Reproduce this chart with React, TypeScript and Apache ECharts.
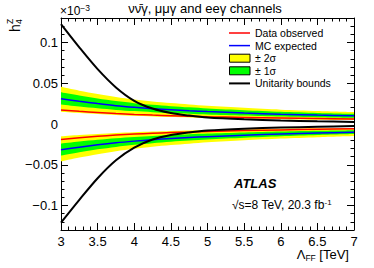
import React, { useEffect, useRef } from "react";
import * as echarts from "echarts";

const lambdaFF = [3, 3.25, 3.5, 3.75, 4, 4.25, 4.5, 4.75, 5, 5.5, 6, 6.5, 7];

// upper branch (positive h4Z)
const expUpper = [0.031, 0.0278, 0.025, 0.0225, 0.0205, 0.0188, 0.0175, 0.0163, 0.0152, 0.0135, 0.012, 0.0109, 0.01];
const obsUpper = [0.0171, 0.0155, 0.0141, 0.0128, 0.0118, 0.0109, 0.0102, 0.0096, 0.009, 0.0081, 0.0073, 0.0066, 0.006];
const twoSigHiUpper = [0.0456, 0.0409, 0.0368, 0.0331, 0.0301, 0.0276, 0.0257, 0.024, 0.0223, 0.0198, 0.0176, 0.016, 0.0147];
const twoSigLoUpper = [0.015, 0.0135, 0.0122, 0.011, 0.01, 0.0092, 0.0086, 0.008, 0.0074, 0.0066, 0.0059, 0.0053, 0.0049];
const oneSigHiUpper = [0.0388, 0.0348, 0.0313, 0.0281, 0.0256, 0.0235, 0.0219, 0.0204, 0.019, 0.0169, 0.015, 0.0136, 0.0125];
const oneSigLoUpper = [0.0239, 0.0214, 0.0193, 0.0173, 0.0158, 0.0145, 0.0135, 0.0126, 0.0117, 0.0104, 0.0092, 0.0084, 0.0077];
const unitarityUpper = [0.1225, 0.094, 0.0673, 0.0449, 0.0285, 0.019, 0.0135, 0.0103, 0.0079, 0.0057, 0.0043, 0.0033, 0.0025];

// lower branch (negative h4Z)
const expLower = [-0.0317, -0.0284, -0.0255, -0.023, -0.021, -0.0193, -0.0178, -0.0166, -0.0155, -0.0138, -0.0123, -0.0111, -0.0101];
const obsLower = [-0.0189, -0.0168, -0.015, -0.0136, -0.0124, -0.0114, -0.0105, -0.0098, -0.0091, -0.0081, -0.0073, -0.0065, -0.0059];
const twoSigInnerLower = [-0.0152, -0.0136, -0.0122, -0.011, -0.0101, -0.0093, -0.0085, -0.008, -0.0074, -0.0066, -0.0059, -0.0053, -0.0048];
const twoSigOuterLower = [-0.046, -0.0412, -0.037, -0.0334, -0.0305, -0.028, -0.0258, -0.0241, -0.0225, -0.02, -0.0178, -0.0161, -0.0146];
const oneSigInnerLower = [-0.0241, -0.0216, -0.0194, -0.0175, -0.016, -0.0147, -0.0135, -0.0126, -0.0118, -0.0105, -0.0093, -0.0084, -0.0077];
const oneSigOuterLower = [-0.0387, -0.0346, -0.0311, -0.0281, -0.0256, -0.0235, -0.0217, -0.0203, -0.0189, -0.0168, -0.015, -0.0135, -0.0123];
const unitarityLower = [-0.121, -0.093, -0.0665, -0.0445, -0.029, -0.019, -0.0135, -0.0103, -0.008, -0.0058, -0.0044, -0.0034, -0.0026];

const xTicks = { min: 3, max: 7, interval: 0.5 };
const yRange = { min: -0.13, max: 0.13 };

const FONT = "'Liberation Sans', Arial, Helvetica, sans-serif";
const YELLOW = "#ffff00";
const GREEN = "#00ff00";

const pairs = (ys: number[]) => lambdaFF.map((x, i) => [x, ys[i]]);

// area filled from the zero line to the curve; layered so that the visible
// result is the +-1 sigma / +-2 sigma bands
function fill(name: string, ys: number[], color: string) {
  return {
    name,
    type: "line",
    data: pairs(ys),
    symbol: "none",
    smooth: 0.3,
    lineStyle: { width: 0, opacity: 0 },
    itemStyle: { color },
    areaStyle: { color, opacity: 1, origin: "auto" },
    silent: true,
  };
}

function curve(name: string, ys: number[], color: string, width: number) {
  return {
    name,
    type: "line",
    data: pairs(ys),
    symbol: "none",
    smooth: 0.3,
    lineStyle: { color, width },
    itemStyle: { color },
    silent: true,
  };
}

const fmtY = (v: number) => {
  const k = Math.round(v / 0.05);
  if (Math.abs(v - k * 0.05) > 1e-9) return "";
  return String(+(k * 0.05).toFixed(2)).replace("-", "\u2212");
};

const legendItems = [
  { label: "Data observed", kind: "line", color: "#ff0000", width: 1.5 },
  { label: "MC expected", kind: "line", color: "#0000ff", width: 1.5 },
  { label: "\u00b1 2\u03c3", kind: "box", color: YELLOW, width: 1 },
  { label: "\u00b1 1\u03c3", kind: "box", color: GREEN, width: 1 },
  { label: "Unitarity bounds", kind: "line", color: "#000000", width: 2 },
];

export default function App() {
  const ref = useRef<HTMLDivElement>(null);
  useEffect(() => {
    if (!ref.current) return;
    document.body.style.margin = "0";
    const chart = echarts.init(ref.current, undefined, { renderer: "svg" });
    const axisCommon = {
      axisLine: { show: true, onZero: false, lineStyle: { color: "#000", width: 1 } },
      axisTick: { show: true, inside: true, length: 7, lineStyle: { color: "#000", width: 1 } },
      minorTick: { show: true, splitNumber: 5, length: 3.5, lineStyle: { color: "#000", width: 1 } },
      splitLine: { show: false },
    };

    const legendGraphics: any[] = [];
    legendItems.forEach((it, i) => {
      const cy = 33 + i * 12.6;
      if (it.kind === "line") {
        legendGraphics.push({
          type: "line",
          shape: { x1: 229, y1: cy, x2: 250, y2: cy },
          style: { stroke: it.color, lineWidth: it.width },
          z: 10,
        });
      } else {
        legendGraphics.push({
          type: "rect",
          shape: { x: 229.5, y: cy - 4, width: 20.5, height: 8 },
          style: { fill: it.color, stroke: "#000", lineWidth: 1 },
          z: 10,
        });
      }
      legendGraphics.push({
        type: "text",
        x: 255,
        y: cy,
        z: 10,
        style: {
          text: it.label,
          fontSize: 10.5,
          fontFamily: FONT,
          fill: "#000",
          textAlign: "left",
          textVerticalAlign: "middle",
        },
      });
    });

    chart.setOption({
      animation: false,
      backgroundColor: "#fff",
      grid: { left: 61, right: 20, top: 18, bottom: 38, containLabel: false },
      xAxis: [
        {
          type: "value",
          position: "bottom",
          ...xTicks,
          ...axisCommon,
          axisLabel: { fontSize: 13, color: "#000", fontFamily: FONT, margin: 5 },
        },
        {
          type: "value",
          position: "top",
          ...xTicks,
          ...axisCommon,
          axisLabel: { show: false },
        },
      ],
      yAxis: [
        {
          type: "value",
          position: "left",
          ...yRange,
          splitNumber: 5,
          ...axisCommon,
          axisLabel: { fontSize: 13, color: "#000", fontFamily: FONT, margin: 3, formatter: fmtY },
        },
        {
          type: "value",
          position: "right",
          ...yRange,
          splitNumber: 5,
          ...axisCommon,
          axisLabel: { show: false },
        },
      ],
      series: [
        // upper branch bands
        fill("\u00b1 2\u03c3", twoSigHiUpper, YELLOW),
        fill("\u00b1 1\u03c3", oneSigHiUpper, GREEN),
        fill("\u00b1 2\u03c3", oneSigLoUpper, YELLOW),
        fill("mask", twoSigLoUpper, "#ffffff"),
        // lower branch bands
        fill("\u00b1 2\u03c3", twoSigOuterLower, YELLOW),
        fill("\u00b1 1\u03c3", oneSigOuterLower, GREEN),
        fill("\u00b1 2\u03c3", oneSigInnerLower, YELLOW),
        fill("mask", twoSigInnerLower, "#ffffff"),
        curve("Data observed", obsUpper, "#ff0000", 1.5),
        curve("Data observed", obsLower, "#ff0000", 1.5),
        curve("MC expected", expUpper, "#0000ff", 1.5),
        curve("MC expected", expLower, "#0000ff", 1.5),
        curve("Unitarity bounds", unitarityUpper, "#000000", 2),
        curve("Unitarity bounds", unitarityLower, "#000000", 2),
      ],
      graphic: [
        ...legendGraphics,
        {
          type: "text",
          x: 205,
          y: 8,
          style: {
            text: "\u03bd\u03bd\u0304\u03b3, \u03bc\u03bc\u03b3 and ee\u03b3 channels",
            fontSize: 13,
            fontFamily: FONT,
            fill: "#000",
            textAlign: "center",
            textVerticalAlign: "middle",
          },
        },
        {
          type: "text",
          x: 60,
          y: 17,
          style: {
            text: "{a|\u00d710}{b|\u22123}",
            fontFamily: FONT,
            fill: "#000",
            textAlign: "left",
            textVerticalAlign: "bottom",
            rich: {
              a: { fontSize: 12, fontFamily: FONT, lineHeight: 14, verticalAlign: "bottom" },
              b: { fontSize: 8.5, fontFamily: FONT, lineHeight: 14, verticalAlign: "top", padding: [0, 0, 6, 0] },
            },
          },
        },
        {
          type: "text",
          x: 22,
          y: 32,
          rotation: Math.PI / 2,
          style: { text: "h", fontSize: 14, fontFamily: FONT, fill: "#000", textAlign: "left", textVerticalAlign: "bottom" },
        },
        {
          type: "text",
          x: 23,
          y: 24,
          rotation: Math.PI / 2,
          style: { text: "4", fontSize: 8.5, fontFamily: FONT, fill: "#000", textAlign: "left", textVerticalAlign: "bottom" },
        },
        {
          type: "text",
          x: 14,
          y: 24,
          rotation: Math.PI / 2,
          style: { text: "Z", fontSize: 8.5, fontFamily: FONT, fill: "#000", textAlign: "left", textVerticalAlign: "bottom" },
        },
        {
          type: "text",
          x: 75,
          y: 124,
          style: { text: "Allowed", fontSize: 12.3, fontFamily: FONT, fill: "#000", textAlign: "left", textVerticalAlign: "middle" },
        },
        {
          type: "text",
          x: 234,
          y: 183,
          style: {
            text: "ATLAS",
            fontSize: 13,
            fontWeight: "bold",
            fontStyle: "italic",
            fontFamily: FONT,
            fill: "#000",
            textAlign: "left",
            textVerticalAlign: "middle",
          },
        },
        {
          type: "text",
          x: 232,
          y: 205,
          style: {
            text: "{a|\u221as=8 TeV, 20.3 fb}{b|-1}",
            fontFamily: FONT,
            fill: "#000",
            textAlign: "left",
            textVerticalAlign: "middle",
            rich: {
              a: { fontSize: 12, fontFamily: FONT, lineHeight: 14 },
              b: { fontSize: 8, fontFamily: FONT, lineHeight: 14, verticalAlign: "top", padding: [0, 0, 6, 0] },
            },
          },
        },
        {
          type: "text",
          x: 349,
          y: 254,
          style: {
            text: "{a|\u039b}{b|FF}{a| [TeV]}",
            fontFamily: FONT,
            fill: "#000",
            textAlign: "right",
            textVerticalAlign: "middle",
            rich: {
              a: { fontSize: 13, fontFamily: FONT, lineHeight: 16 },
              b: { fontSize: 8.5, fontFamily: FONT, lineHeight: 16, verticalAlign: "bottom", padding: [6, 0, 0, 0] },
            },
          },
        },
      ],
    });
    return () => chart.dispose();
  }, []);
  return <div ref={ref} style={{ width: 374, height: 268 }} />;
}
